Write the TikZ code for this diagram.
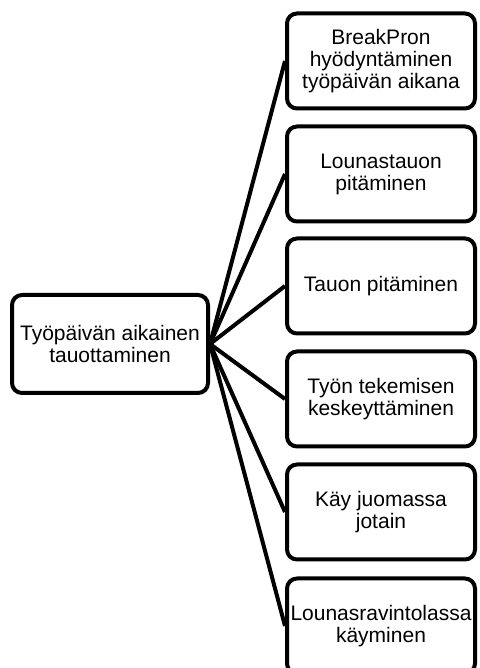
\documentclass[tikz,border=0pt]{standalone}
\usepackage{fontspec}
\setmainfont{Liberation Sans}
\usepackage{tikz}
\usetikzlibrary{positioning}

\tikzset{
  topicbox/.style={draw, line width=4pt, rounded corners=10pt, fill=white,
    align=center, inner sep=2pt, font=\fontsize{21}{22}\selectfont},
  rootbox/.style={topicbox, minimum width=196pt, minimum height=98pt},
  leafbox/.style={topicbox, minimum width=188pt, minimum height=95pt},
  branch/.style={line width=4pt}
}

\begin{document}
\begin{tikzpicture}[x=1pt, y=1pt]
        \useasboundingbox (0,0) rectangle (479,668);
        \node[rootbox] (root) at (110,324) {Työpäivän aikainen\\tauottaminen};
        \node[leafbox] (b1) at (381,607) {BreakPron\\hyödyntäminen\\työpäivän aikana};
        \node[leafbox] (b2) at (381,494) {Lounastauon\\pitäminen};
        \node[leafbox] (b3) at (381,382) {Tauon pitäminen};
        \node[leafbox] (b4) at (381,269) {Työn tekemisen\\keskeyttäminen};
        \node[leafbox] (b5) at (381,156) {Käy juomassa\\jotain};
        \node[leafbox] (b6) at (381,42) {Lounasravintolassa\\käyminen};
        \foreach \i in {1,...,6}
            \draw[branch] (root.east) -- (b\i.west);
\end{tikzpicture}
\end{document}
